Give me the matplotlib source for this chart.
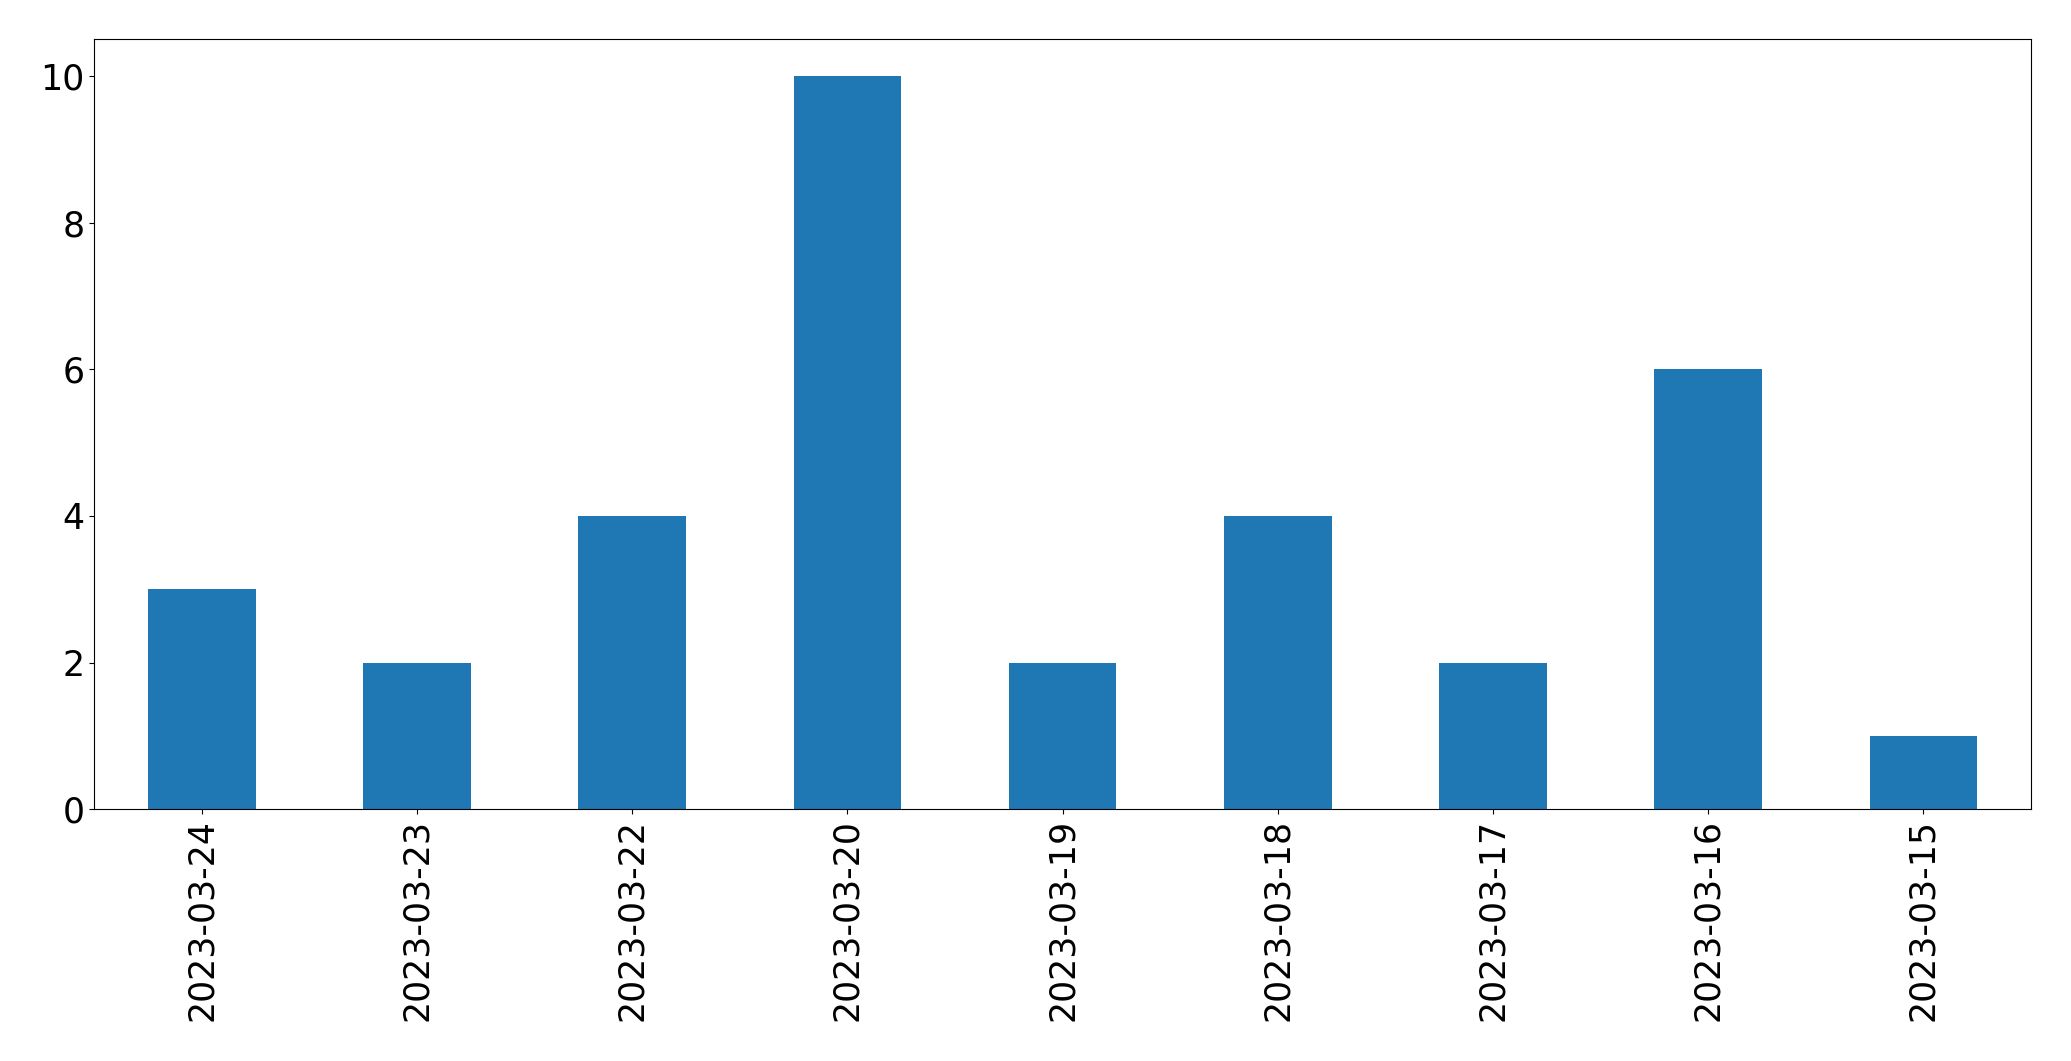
import matplotlib
matplotlib.use('Agg')
import matplotlib.pyplot as plt

dates = ['2023-03-24', '2023-03-23', '2023-03-22', '2023-03-20', '2023-03-19',
         '2023-03-18', '2023-03-17', '2023-03-16', '2023-03-15']
counts = [3, 2, 4, 10, 2, 4, 2, 6, 1]

fig = plt.figure(figsize=(20.71, 10.61), dpi=100)
ax = fig.add_axes([94.3/2071, 1 - 809.3/1061, (2031 - 94.3)/2071, (809.3 - 39.3)/1061])

x = range(len(dates))
ax.bar(x, counts, width=0.5, color='#1f77b4')
ax.set_xlim(-0.5, len(dates) - 0.5)
ax.set_ylim(0, 10.5)
ax.set_xticks(list(x))
ax.set_xticklabels(dates, rotation=90)
ax.tick_params(labelsize=25)

fig.savefig('out.png', dpi=100)
